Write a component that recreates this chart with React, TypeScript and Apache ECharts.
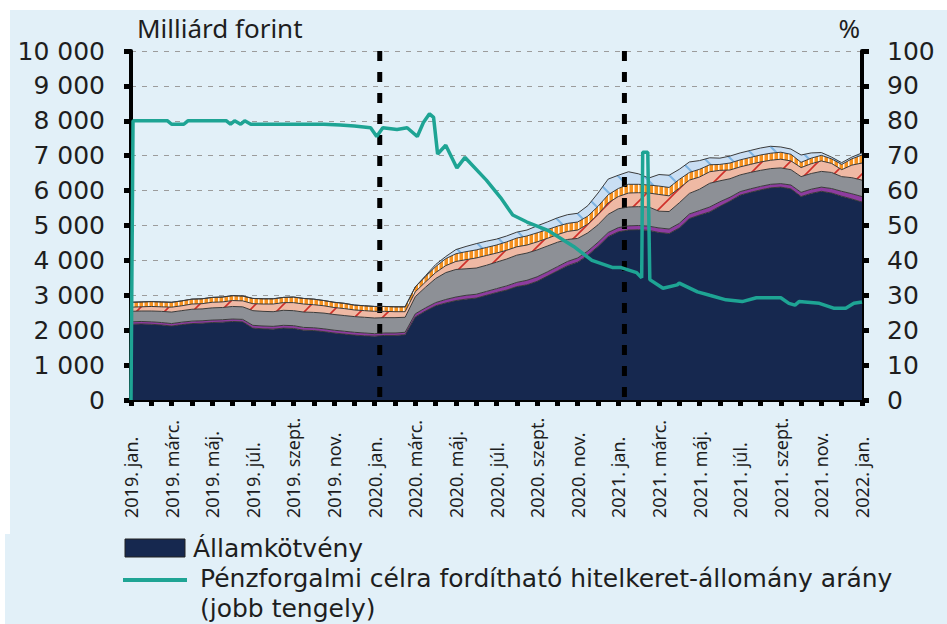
import React, { useEffect, useRef } from 'react';
import * as echarts from 'echarts';

// ---------- axis / labels ----------
const MONTH_NAMES = ['jan.', 'febr.', 'márc.', 'ápr.', 'máj.', 'jún.', 'júl.', 'aug.', 'szept.', 'okt.', 'nov.', 'dec.'];
const START_YEAR = 2019;
const MONTH_COUNT = 36; // 2019 jan .. 2022 jan

const LEFT_TITLE = 'Milliárd forint';
const RIGHT_TITLE = '%';
const NAME_BOND = 'Államkötvény';
const NAME_RATE = 'Pénzforgalmi célra fordítható hitelkeret-állomány arány';
const NAME_RATE_2 = '(jobb tengely)';

// half-month periods as categories
const periods: string[] = [];
for (let m = 0; m <= MONTH_COUNT; m++) {
  for (let h = 0; h < 2; h++) {
    if (m === MONTH_COUNT && h === 1) break;
    periods.push(`${START_YEAR + Math.floor(m / 12)}. ${MONTH_NAMES[m % 12]}|${h}`);
  }
}

// ---------- stacked layers (billion HUF), half-month steps ----------
const bond = [
  2170, 2180, 2170, 2150, 2120, 2160, 2190, 2200, 2220, 2230,
  2250, 2240, 2060, 2040, 2030, 2060, 2050, 2000, 1990, 1960,
  1920, 1890, 1860, 1840, 1830, 1850, 1850, 1870,
  2380, 2550, 2700, 2780, 2850, 2890, 2920, 3000, 3080, 3150,
  3250, 3300, 3400, 3550, 3700, 3850, 3950, 4150, 4400, 4680,
  4820, 4870, 4880, 4860, 4800, 4770, 4930, 5200, 5300, 5390,
  5550, 5700, 5870, 5950, 6020, 6080, 6100, 6050, 5830, 5920,
  5980, 5930, 5840, 5760, 5670,
];
const layerPurple = [
  70, 70, 70, 70, 70, 70, 70, 70, 70, 70,
  70, 70, 80, 80, 80, 80, 80, 80, 80, 80,
  80, 80, 80, 80, 70, 70, 70, 70,
  90, 90, 90, 100, 100, 110, 110, 110, 110, 120,
  120, 130, 130, 120, 120, 120, 120, 120, 120, 120,
  120, 120, 120, 120, 130, 130, 130, 130, 130, 140,
  130, 110, 100, 100, 100, 100, 100, 110, 120, 120,
  120, 130, 140, 150, 160,
];
const layerGray = [
  300, 300, 310, 320, 330, 330, 340, 340, 350, 350,
  360, 360, 420, 420, 420, 430, 430, 440, 440, 450,
  450, 450, 450, 450, 450, 440, 440, 430,
  490, 590, 690, 770, 790, 760, 750, 750, 760, 770,
  780, 780, 770, 740, 700, 630, 560, 520, 500, 520,
  540, 540, 540, 550, 480, 500, 590, 590, 610, 680,
  600, 530, 480, 470, 460, 450, 450, 440, 450, 450,
  450, 460, 420, 460, 470,
];
const layerSalmon = [
  120, 120, 130, 130, 140, 140, 150, 150, 160, 160,
  170, 170, 200, 210, 220, 220, 230, 230, 220, 210,
  200, 200, 190, 190, 190, 180, 170, 160,
  140, 150, 170, 200, 230, 260, 290, 280, 260, 250,
  240, 230, 230, 220, 220, 230, 240, 250, 300, 330,
  350, 400, 400, 400, 480, 450, 420, 380, 350, 330,
  300, 250, 230, 230, 240, 240, 250, 250, 260, 280,
  300, 260, 200, 360, 490,
];
const layerOrange = [
  140, 140, 140, 140, 140, 140, 140, 140, 140, 140,
  140, 140, 150, 150, 150, 150, 160, 160, 160, 150,
  150, 150, 140, 140, 140, 140, 140, 140,
  140, 150, 170, 200, 220, 230, 230, 230, 230, 240,
  250, 260, 260, 250, 240, 230, 230, 230, 230, 230,
  230, 250, 240, 230, 240, 240, 250, 220, 220, 200,
  170, 200, 200, 200, 200, 200, 200, 190, 150, 160,
  160, 130, 150, 180, 230,
];
const layerLightBlue = [
  0, 0, 0, 0, 0, 0, 0, 0, 0, 0,
  0, 0, 0, 0, 0, 0, 0, 0, 0, 0,
  0, 0, 0, 0, 0, 0, 0, 0,
  0, 30, 60, 60, 120, 150, 180, 180, 170, 170,
  170, 170, 200, 220, 240, 250, 250, 300, 380, 450,
  380, 360, 300, 200, 330, 350, 290, 300, 250, 200,
  180, 200, 200, 200, 200, 200, 150, 150, 210, 150,
  80, 50, 50, 50, 60,
];

// ---------- ratio line (right axis, %), x in months from 2019 jan ----------
const rateMonths = [
  0, 0.1, 1.8, 2.0, 2.6, 2.8, 4.7, 4.9, 5.1, 5.4, 5.6, 5.9, 9.5, 10.3, 11.0, 11.8,
  12.1, 12.4, 13.1, 13.6, 14.1, 14.4, 14.7, 14.9, 15.1, 15.5, 16.05, 16.45, 17.5,
  18.2, 18.8, 19.5, 20.5, 21.8, 22.7, 23.7, 24.1, 24.9, 25.15, 25.2, 25.45, 25.55,
  26.2, 26.9, 27.0, 27.9, 28.5, 29.3, 30.1, 30.8, 32.0, 32.4, 32.7, 32.9, 33.9,
  34.6, 35.2, 35.6, 36,
];
const rateValues = [
  0, 80, 80, 79, 79, 80, 80, 79, 80, 79, 80, 79, 79, 78.8, 78.5, 78,
  75.5, 78, 77.5, 78, 75.5, 79.5, 82, 81, 70.5, 73, 66.5, 69.5, 63,
  58, 53, 51, 48.7, 44, 40, 38, 38, 36.5, 35, 71, 71, 34.5,
  32, 33, 33.5, 31, 30, 28.7, 28.2, 29.3, 29.3, 27.7, 27.2, 28.2, 27.7,
  26.3, 26.3, 27.7, 28.1,
];

// vertical dashed markers (months from 2019 jan)
const markerMonths = [12.25, 24.3];

const LEFT_MAX = 10000;

const COLORS = {
  bg: '#e2f0f8',
  navy: '#16284f',
  purple: '#8e3c9f',
  gray: '#8d9096',
  salmon: '#efb9a4',
  salmonLine: '#d0302a',
  orange: '#f5901e',
  lightBlue: '#c9def3',
  lightBlueLine: '#7db3e2',
  outline: '#3a3a3a',
  teal: '#1ea494',
  text: '#1e1e1e',
};

function makePattern(w: number, h: number, draw: (c: CanvasRenderingContext2D) => void) {
  const canvas = document.createElement('canvas');
  canvas.width = w;
  canvas.height = h;
  const ctx = canvas.getContext('2d')!;
  draw(ctx);
  return { image: canvas, repeat: 'repeat' } as any;
}

function fmtThousands(v: number) {
  return String(v).replace(/\B(?=(\d{3})+(?!\d))/g, ' ');
}

export default function App() {
  const ref = useRef<HTMLDivElement>(null);

  useEffect(() => {
    document.body.style.margin = '0';
    const chart = echarts.init(ref.current!, null, { renderer: 'svg' });

    const salmonPattern = makePattern(28, 28, (c) => {
      c.fillStyle = COLORS.salmon;
      c.fillRect(0, 0, 28, 28);
      c.strokeStyle = COLORS.salmonLine;
      c.lineWidth = 1.6;
      c.beginPath();
      c.moveTo(-2, 30); c.lineTo(30, -2);
      c.moveTo(-2, 2); c.lineTo(2, -2);
      c.moveTo(26, 30); c.lineTo(30, 26);
      c.stroke();
    });
    const orangePattern = makePattern(5, 10, (c) => {
      c.fillStyle = COLORS.orange;
      c.fillRect(0, 0, 5, 10);
      c.fillStyle = '#fff3e6';
      c.fillRect(3, 0, 1.5, 10);
    });
    const bluePattern = makePattern(26, 26, (c) => {
      c.fillStyle = COLORS.lightBlue;
      c.fillRect(0, 0, 26, 26);
      c.strokeStyle = COLORS.lightBlueLine;
      c.lineWidth = 2;
      c.beginPath();
      c.moveTo(-2, -2); c.lineTo(28, 28);
      c.moveTo(24, -2); c.lineTo(28, 2);
      c.moveTo(-2, 24); c.lineTo(2, 28);
      c.stroke();
    });

    const areaSeries = (name: string, data: number[], fill: any, legendColor: string) => ({
      name,
      type: 'line',
      stack: 'total',
      xAxisIndex: 0,
      yAxisIndex: 0,
      data,
      symbol: 'none',
      showSymbol: false,
      lineStyle: { color: COLORS.outline, width: 1 },
      itemStyle: { color: legendColor },
      areaStyle: { color: fill, opacity: 1 },
      emphasis: { disabled: true },
    });

    const markerSeries = markerMonths.map((m, i) => ({
      name: 'marker' + i,
      type: 'line',
      xAxisIndex: 1,
      yAxisIndex: 0,
      data: [[m, LEFT_MAX], [m, 0]],
      symbol: 'none',
      lineStyle: { color: '#000', width: 5, type: [10, 11] },
      emphasis: { disabled: true },
    }));

    const legendFont = { fontFamily: 'DejaVu Sans', fontSize: 25, fill: COLORS.text };

    const option: any = {
      animation: false,
      backgroundColor: COLORS.bg,
      grid: { left: 131, right: 85, top: 51, bottom: 224, containLabel: false },
      graphic: [
        { type: 'rect', left: 0, top: 0, shape: { width: 947, height: 10 }, style: { fill: '#ffffff' }, z: 100 },
        { type: 'rect', left: 0, top: 0, shape: { width: 10, height: 534 }, style: { fill: '#ffffff' }, z: 100 },
        { type: 'rect', left: 0, top: 534, shape: { width: 5, height: 90 }, style: { fill: '#ffffff' }, z: 100 },
        // legend: bond
        {
          type: 'rect', x: 125, y: 539, z: 100,
          shape: { x: 0, y: 0, width: 60, height: 18 },
          style: { fill: COLORS.navy, stroke: '#222', lineWidth: 1 },
        },
        {
          type: 'text', x: 193, y: 548, z: 100,
          style: { ...legendFont, text: NAME_BOND, verticalAlign: 'middle', align: 'left' },
        },
        // legend: ratio line
        {
          type: 'line', z: 100,
          shape: { x1: 123, y1: 580, x2: 187, y2: 580 },
          style: { stroke: COLORS.teal, lineWidth: 4 },
        },
        {
          type: 'text', x: 200, y: 564, z: 100,
          style: { ...legendFont, text: NAME_RATE + '\n' + NAME_RATE_2, lineHeight: 29.5, verticalAlign: 'top', align: 'left' },
        },
      ],
      xAxis: [
        {
          type: 'category',
          data: periods,
          boundaryGap: false,
          axisLine: { lineStyle: { color: '#000', width: 4 } },
          axisTick: { show: true, interval: 1, length: 6, lineStyle: { color: '#000', width: 5 } },
          axisLabel: {
            interval: 3,
            rotate: 90,
            align: 'left',
            verticalAlign: 'middle',
            margin: 118,
            fontFamily: 'Noto Sans',
            fontSize: 18,
            color: COLORS.text,
            formatter: (v: string) => v.split('|')[0],
          },
          splitLine: { show: false },
        },
        { type: 'value', min: 0, max: MONTH_COUNT, show: false },
      ],
      yAxis: [
        {
          type: 'value',
          min: 0,
          max: LEFT_MAX,
          interval: 1000,
          name: LEFT_TITLE,
          nameLocation: 'end',
          nameGap: 10,
          nameTextStyle: { align: 'left', fontFamily: 'Noto Sans', fontSize: 26, color: COLORS.text, padding: [0, 0, 0, 6] },
          axisLine: { show: true, lineStyle: { color: '#000', width: 4 } },
          axisTick: { show: true, length: 7, lineStyle: { color: '#000', width: 5 } },
          axisLabel: { margin: 26, fontFamily: 'DejaVu Sans', fontSize: 25, color: COLORS.text, formatter: fmtThousands },
          splitLine: { show: true, lineStyle: { color: '#9c9c9c', width: 1, type: [5, 6] } },
        },
        {
          type: 'value',
          min: 0,
          max: 100,
          interval: 10,
          position: 'right',
          name: RIGHT_TITLE,
          nameLocation: 'end',
          nameGap: 10,
          nameTextStyle: { align: 'right', fontFamily: 'Noto Sans', fontSize: 26, color: COLORS.text, padding: [0, 2, 0, 0] },
          axisLine: { show: true, lineStyle: { color: '#000', width: 4 } },
          axisTick: { show: true, length: 7, lineStyle: { color: '#000', width: 5 } },
          axisLabel: { margin: 25, fontFamily: 'DejaVu Sans', fontSize: 25, color: COLORS.text },
          splitLine: { show: false },
        },
      ],
      series: [
        ...markerSeries,
        areaSeries(NAME_BOND, bond, COLORS.navy, COLORS.navy),
        areaSeries('Réteg 2', layerPurple, COLORS.purple, COLORS.purple),
        areaSeries('Réteg 3', layerGray, COLORS.gray, COLORS.gray),
        areaSeries('Réteg 4', layerSalmon, salmonPattern, COLORS.salmon),
        areaSeries('Réteg 5', layerOrange, orangePattern, COLORS.orange),
        areaSeries('Réteg 6', layerLightBlue, bluePattern, COLORS.lightBlue),
        {
          name: NAME_RATE,
          type: 'line',
          xAxisIndex: 1,
          yAxisIndex: 1,
          data: rateMonths.map((m, i) => [m, rateValues[i]]),
          symbol: 'none',
          lineStyle: { color: COLORS.teal, width: 3.5 },
          itemStyle: { color: COLORS.teal },
          emphasis: { disabled: true },
        },
      ],
    };

    chart.setOption(option);
    return () => chart.dispose();
  }, []);

  return <div ref={ref} style={{ width: 947, height: 624 }} />;
}
